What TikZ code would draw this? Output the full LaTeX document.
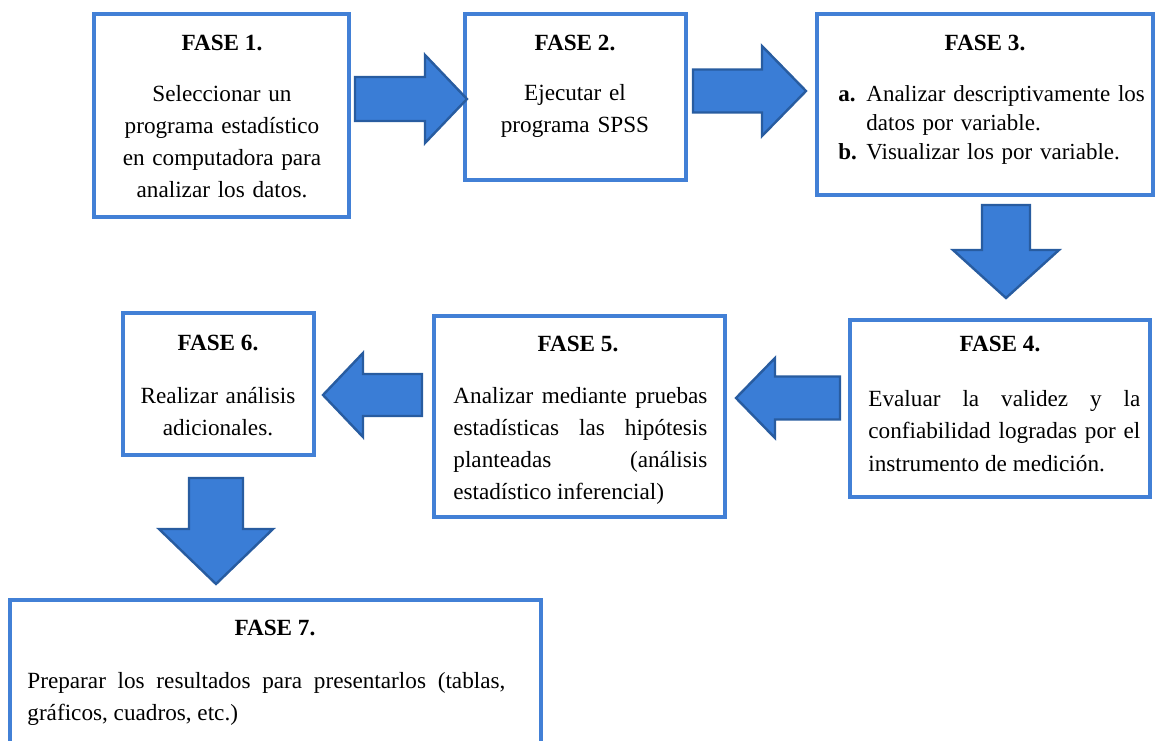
\documentclass[tikz,border=0pt]{standalone}
\usepackage{fontspec}
\setmainfont{Liberation Serif}
\usetikzlibrary{positioning}
\definecolor{faseblue}{RGB}{66,128,214}
\definecolor{arrowfill}{RGB}{58,125,214}
\definecolor{arrowedge}{RGB}{40,92,160}
\hyphenpenalty=10000

\begin{document}
\begin{tikzpicture}[
  x=0.5pt, y=-0.5pt,
  fasebox/.style={rectangle, draw=faseblue, line width=1.6pt, fill=white, inner sep=0pt},
  titulo/.style={font=\fontsize{11.6}{14}\selectfont\bfseries, anchor=base, inner sep=0pt},
  cuerpo/.style={font=\fontsize{11.6}{16}\selectfont, align=center, text width=120pt, anchor=base, inner sep=0pt},
  izq/.style={font=\fontsize{11.6}{16}\selectfont, align=left, anchor=base west, inner sep=0pt},
  justo/.style={font=\fontsize{11.6}{16.25}\selectfont, align=justify, anchor=base west, inner sep=0pt},
  bloque/.style={fill=arrowfill, draw=arrowedge, line width=1.2pt, line join=miter}
]
\useasboundingbox (0,0) rectangle (1156,740);

% Top row
\node[fasebox, minimum width=127.5pt, minimum height=101.5pt] (f1) at (221.5,115.5) {};
\node[fasebox, minimum width=110.5pt, minimum height=83pt] (f2) at (575.5,97) {};
\node[fasebox, minimum width=168pt, minimum height=90.5pt] (f3) at (985,104.5) {};

\node[titulo] (t1) at (222,50) {FASE 1.};
\node[cuerpo] (c1) at (222,101) {Seleccionar un\\programa estadístico\\en computadora para\\analizar los datos.};
\node[titulo] (t2) at (575,50) {FASE 2.};
\node[cuerpo, text width=100pt] (c2) at (575,100) {Ejecutar el\\programa SPSS};
\node[titulo] (t3) at (985,50) {FASE 3.};
\node[izq, text width=160pt, font=\fontsize{11.5}{14.5}\selectfont] (c3) at (838,101)
  {\makebox[14pt][l]{\textbf{a.}}Analizar descriptivamente los\\\hspace*{14pt}datos por variable.\\\makebox[14pt][l]{\textbf{b.}}Visualizar los por variable.};

% Middle row
\node[fasebox, minimum width=150pt, minimum height=88.5pt] (f4) at (1000,408.5) {};
\node[fasebox, minimum width=145.5pt, minimum height=100.5pt] (f5) at (579.5,416.5) {};
\node[fasebox, minimum width=95.5pt, minimum height=71pt] (f6) at (218.5,384) {};

\node[titulo] (t4) at (1000,351) {FASE 4.};
\node[justo, text width=136pt] (c4) at (868,406)
  {Evaluar la validez y la\linebreak confiabilidad logradas por el\linebreak instrumento de medición.};
\node[titulo] (t5) at (578,351) {FASE 5.};
\node[justo, text width=127pt, font=\fontsize{11.6}{16}\selectfont] (c5) at (453,403)
  {Analizar mediante pruebas\linebreak estadísticas las hipótesis\linebreak planteadas (análisis\linebreak estadístico inferencial)};
\node[titulo] (t6) at (218,350) {FASE 6.};
\node[cuerpo, text width=90pt] (c6) at (218,403) {Realizar análisis\\adicionales.};

% Bottom row
\node[fasebox, minimum width=265.5pt, minimum height=75pt] (f7) at (275.5,675) {};
\node[titulo] (t7) at (275,635) {FASE 7.};
\node[justo, text width=239pt, font=\fontsize{11.6}{16}\selectfont] (c7) at (27,688)
  {Preparar los resultados para presentarlos (tablas,\linebreak gráficos, cuadros, etc.)};

% Block arrows (horizontal)
\foreach \xa/\xb/\xc/\yc/\sh/\hh in {355/425/467/99/22/44, 693/762/806/91/21.5/45, 840/775/736/398/21.5/40, 422/363/323/395/21/42} {
  \draw[bloque] (\xa,\yc-\sh) -- (\xb,\yc-\sh) -- (\xb,\yc-\hh) -- (\xc,\yc) -- (\xb,\yc+\hh) -- (\xb,\yc+\sh) -- (\xa,\yc+\sh) -- cycle;
}
% Block arrows (vertical)
\foreach \xc/\ya/\yb/\yd/\sh/\hh in {1006/205/250/298/24/53, 216/478/529/584/27/57} {
  \draw[bloque] (\xc-\sh,\ya) -- (\xc-\sh,\yb) -- (\xc-\hh,\yb) -- (\xc,\yd) -- (\xc+\hh,\yb) -- (\xc+\sh,\yb) -- (\xc+\sh,\ya) -- cycle;
}

\end{tikzpicture}
\end{document}
